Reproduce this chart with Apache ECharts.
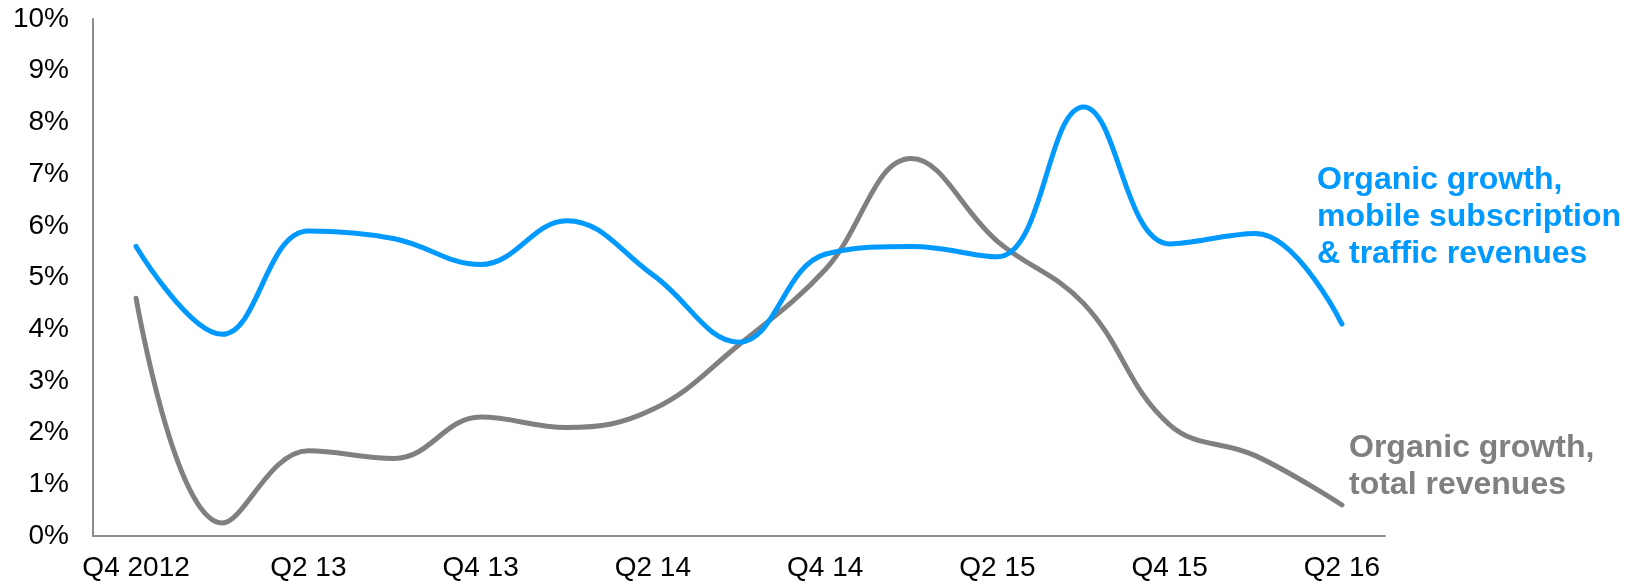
<!DOCTYPE html>
<html>
<head>
<meta charset="utf-8">
<script src="https://cdn.jsdelivr.net/npm/echarts@6/dist/echarts.min.js"></script>
<style>
html,body{margin:0;padding:0;background:#fff;}
#chart{width:1635px;height:586px;}
</style>
</head>
<body>
<div id="chart"></div>
<script>
const categories = ['Q4 2012','Q1 13','Q2 13','Q3 13','Q4 13','Q1 14','Q2 14','Q3 14','Q4 14','Q1 15','Q2 15','Q3 15','Q4 15','Q1 16','Q2 16'];
const mobileGrowth = [5.6, 3.9, 5.9, 5.75, 5.25, 6.1, 5.05, 3.75, 5.45, 5.6, 5.4, 8.3, 5.65, 5.85, 4.1];
const totalGrowth = [4.6, 0.25, 1.65, 1.5, 2.3, 2.1, 2.45, 3.7, 5.15, 7.3, 5.7, 4.5, 2.15, 1.55, 0.6];
const yTicks = {min: 0, max: 10, interval: 1};
const mobileLabel = 'Organic growth,\nmobile subscription\n& traffic revenues';
const totalLabel = 'Organic growth,\ntotal revenues';

const chart = echarts.init(document.getElementById('chart'));
chart.setOption({
  backgroundColor: '#ffffff',
  animation: false,
  grid: {left: 93, right: 250, top: 19, bottom: 50, containLabel: false},
  xAxis: {
    type: 'category',
    data: categories,
    boundaryGap: true,
    axisLine: {lineStyle: {color: '#8c8c8c', width: 2}},
    axisTick: {show: false},
    axisLabel: {interval: 1, color: '#000', fontSize: 28, fontFamily: 'Liberation Sans, Arial, sans-serif', margin: 18}
  },
  yAxis: {
    type: 'value',
    min: yTicks.min, max: yTicks.max, interval: yTicks.interval,
    axisLine: {show: true, lineStyle: {color: '#8c8c8c', width: 2}},
    axisTick: {show: false},
    splitLine: {show: false},
    axisLabel: {formatter: '{value}%', color: '#000', fontSize: 28, fontFamily: 'Liberation Sans, Arial, sans-serif', margin: 24}
  },
  series: [
    {
      name: 'Organic growth, mobile subscription & traffic revenues',
      type: 'line', data: mobileGrowth, smooth: 0.4, symbol: 'none',
      lineStyle: {color: '#0099ff', width: 5, cap: 'round'}, z: 3
    },
    {
      name: 'Organic growth, total revenues',
      type: 'line', data: totalGrowth, smooth: 0.4, symbol: 'none',
      lineStyle: {color: '#808080', width: 5, cap: 'round'}, z: 2
    }
  ],
  graphic: [
    {type: 'text', left: 1317, top: 162, style: {text: mobileLabel, fill: '#0099ff', font: 'bold 32px "Liberation Sans", Arial, sans-serif', lineHeight: 37}},
    {type: 'text', left: 1349, top: 430, style: {text: totalLabel, fill: '#808080', font: 'bold 32px "Liberation Sans", Arial, sans-serif', lineHeight: 37}}
  ]
});
</script>
</body>
</html>
